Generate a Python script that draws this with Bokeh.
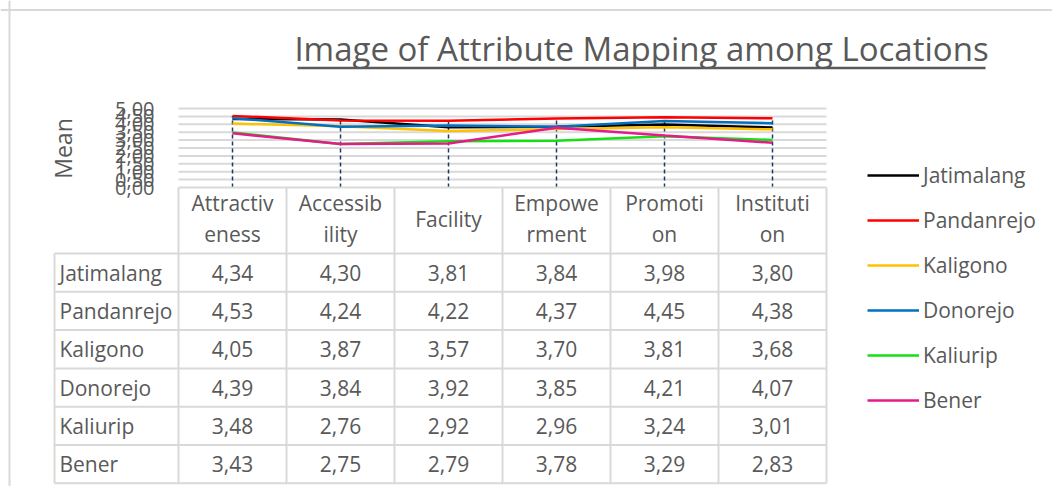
import numpy as np
from bokeh.plotting import figure
from bokeh.models import Range1d, LinearAxis, FixedTicker, Legend, LegendItem, Span
from bokeh.core.properties import value
from bokeh.embed import file_html
from bokeh.resources import INLINE

# ---------------- data ----------------
categories = ["Attractiveness", "Accessibility", "Facility", "Empowerment", "Promotion", "Institution"]
header_break = [9, 8, 0, 6, 7, 9]          # where each header wraps in the data table
locations = ["Jatimalang", "Pandanrejo", "Kaligono", "Donorejo", "Kaliurip", "Bener"]
jatimalang = [4.34, 4.30, 3.81, 3.84, 3.98, 3.80]
pandanrejo = [4.53, 4.24, 4.22, 4.37, 4.45, 4.38]
kaligono = [4.05, 3.87, 3.57, 3.70, 3.81, 3.68]
donorejo = [4.39, 3.84, 3.92, 3.85, 4.21, 4.07]
kaliurip = [3.48, 2.76, 2.92, 2.96, 3.24, 3.01]
bener = [3.43, 2.75, 2.79, 3.78, 3.29, 2.83]
y_ticks = [0.0, 0.5, 1.0, 1.5, 2.0, 2.5, 3.0, 3.5, 4.0, 4.5, 5.0]
y_tick_labels = ["0,00", "0,50", "1,00", "1,50", "2,00", "2,50", "3,00", "3,50", "4,00", "4,50", "5,00"]
colors = ["#000000", "#FF0000", "#FFC000", "#0070C0", "#14E014", "#E8198B"]
title_text = "Image of Attribute Mapping among Locations"
y_title = "Mean"

series = [jatimalang, pandanrejo, kaligono, donorejo, kaliurip, bener]

# ---------------- layout (page pixels) ----------------
W, H = 1052, 486
PX0, PY0 = 0, 0
PLOT_LEFT = 178.0
COL_W = 108.0
ZERO_Y = 187.0
PX_PER_UNIT = 15.8

def X(px):
    return (px - PLOT_LEFT) / COL_W

def Y(py):
    return (ZERO_Y - py) / PX_PER_UNIT

FONT = value("Open Sans")
TXT = "#595959"
GRID = "#d9d9d9"

p = figure(width=W, height=H, output_backend="svg", toolbar_location=None,
           x_range=Range1d(X(PX0), X(PX0 + W)), y_range=Range1d(Y(PY0 + H), Y(PY0)),
           x_axis_location=None, y_axis_location=None, min_border=0)
p.outline_line_color = None
p.background_fill_color = "white"
p.border_fill_color = "white"
p.xgrid.visible = False
p.ygrid.visible = False

n = len(categories)
xs = [i + 0.5 for i in range(n)]

# chart border (top & left visible)
p.add_layout(Span(location=Y(9.5), dimension="width", line_color=GRID, line_width=2))
p.add_layout(Span(location=X(9), dimension="height", line_color=GRID, line_width=2))

# horizontal gridlines in plot area
gl = [t for t in y_ticks if t > 0]
p.segment(x0=[0] * len(gl), x1=[n] * len(gl), y0=gl, y1=gl, line_color=GRID, line_width=2)

# y axis (placed at fixed location inside the frame)
yaxis = LinearAxis(fixed_location=X(157), ticker=FixedTicker(ticks=y_ticks),
                   major_label_overrides={t: l for t, l in zip(y_ticks, y_tick_labels)})
yaxis.axis_line_color = None
yaxis.major_tick_line_color = None
yaxis.minor_tick_line_color = None
yaxis.major_tick_out = 0
yaxis.major_tick_in = 0
yaxis.major_label_standoff = 3
yaxis.major_label_text_font = "Open Sans"
yaxis.major_label_text_font_size = "20px"
yaxis.major_label_text_color = TXT
p.add_layout(yaxis, "left")

# y title
p.text(x=[X(62)], y=[Y(148)], text=[y_title], angle=np.pi / 2, text_align="center",
       text_baseline="middle", text_font=FONT, text_font_size="23px", text_color=TXT)

# drop lines
maxima = [max(s[i] for s in series) for i in range(n)]
p.segment(x0=xs, x1=xs, y0=[0] * n, y1=maxima, line_color="#203864", line_width=1.5, line_dash="4 3")

# series lines
items = []
for name, vals, c in zip(locations, series, colors):
    r = p.line(x=xs, y=vals, line_color=c, line_width=2.5)
    items.append(LegendItem(label=name, renderers=[r]))

# legend: bottom-left anchored, in screen pixels from the frame's bottom-left
leg_bottom_from_top = 175 + 5 * 45 + 15
legend = Legend(items=items, location=(867, H - leg_bottom_from_top), orientation="vertical",
                glyph_width=52, glyph_height=30, label_height=30, spacing=15,
                label_standoff=4, padding=0, margin=0, border_line_color=None,
                background_fill_alpha=0, label_text_font="Open Sans",
                label_text_font_size="21px", label_text_color=TXT)
p.add_layout(legend, "center")

# data table
row_edges = [253.0 + k * 38.3 for k in range(len(locations) + 1)]
row_mid = [(row_edges[k] + row_edges[k + 1]) / 2 for k in range(len(locations))]
col_edges_px = [PLOT_LEFT + COL_W * i for i in range(n + 1)]
TL = 54.0
HDR_TOP = ZERO_Y
BOT = row_edges[-1]

hx0, hx1, hy = [], [], []
hx0.append(X(PLOT_LEFT)); hx1.append(X(col_edges_px[-1])); hy.append(Y(HDR_TOP))
for e in row_edges:
    hx0.append(X(TL)); hx1.append(X(col_edges_px[-1])); hy.append(Y(e))
p.segment(x0=hx0, x1=hx1, y0=hy, y1=hy, line_color=GRID, line_width=2)

vx, vy0, vy1 = [X(TL)], [Y(row_edges[0])], [Y(BOT)]
for e in col_edges_px:
    vx.append(X(e)); vy0.append(Y(HDR_TOP)); vy1.append(Y(BOT))
p.segment(x0=vx, x1=vx, y0=vy0, y1=vy1, line_color=GRID, line_width=2)

def wrap(s, k):
    return s if k == 0 else s[:k] + "\n" + s[k:]

headers = [wrap(c, k) for c, k in zip(categories, header_break)]
p.text(x=xs, y=[Y((HDR_TOP + row_edges[0]) / 2 - 2)] * n, text=headers, text_align="center",
       text_baseline="middle", text_font=FONT, text_font_size="21px", text_color=TXT,
       text_line_height=1.08)

p.text(x=[X(59)] * len(locations), y=[Y(m) for m in row_mid], text=locations, text_align="left",
       text_baseline="middle", text_font=FONT, text_font_size="21px", text_color=TXT)

for vals, m in zip(series, row_mid):
    p.text(x=xs, y=[Y(m)] * n, text=[f"{v:.2f}".replace(".", ",") for v in vals],
           text_align="center", text_baseline="middle", text_font=FONT,
           text_font_size="21px", text_color=TXT)

# title with underline
p.text(x=[X(641)], y=[Y(48)], text=[title_text], text_align="center", text_baseline="middle",
       text_font=FONT, text_font_size="33px", text_color=TXT)
p.segment(x0=[X(297)], x1=[X(985)], y0=[Y(67.5)], y1=[Y(67.5)], line_color=TXT, line_width=2.5)

open("out.html", "w").write(file_html(p, INLINE))
